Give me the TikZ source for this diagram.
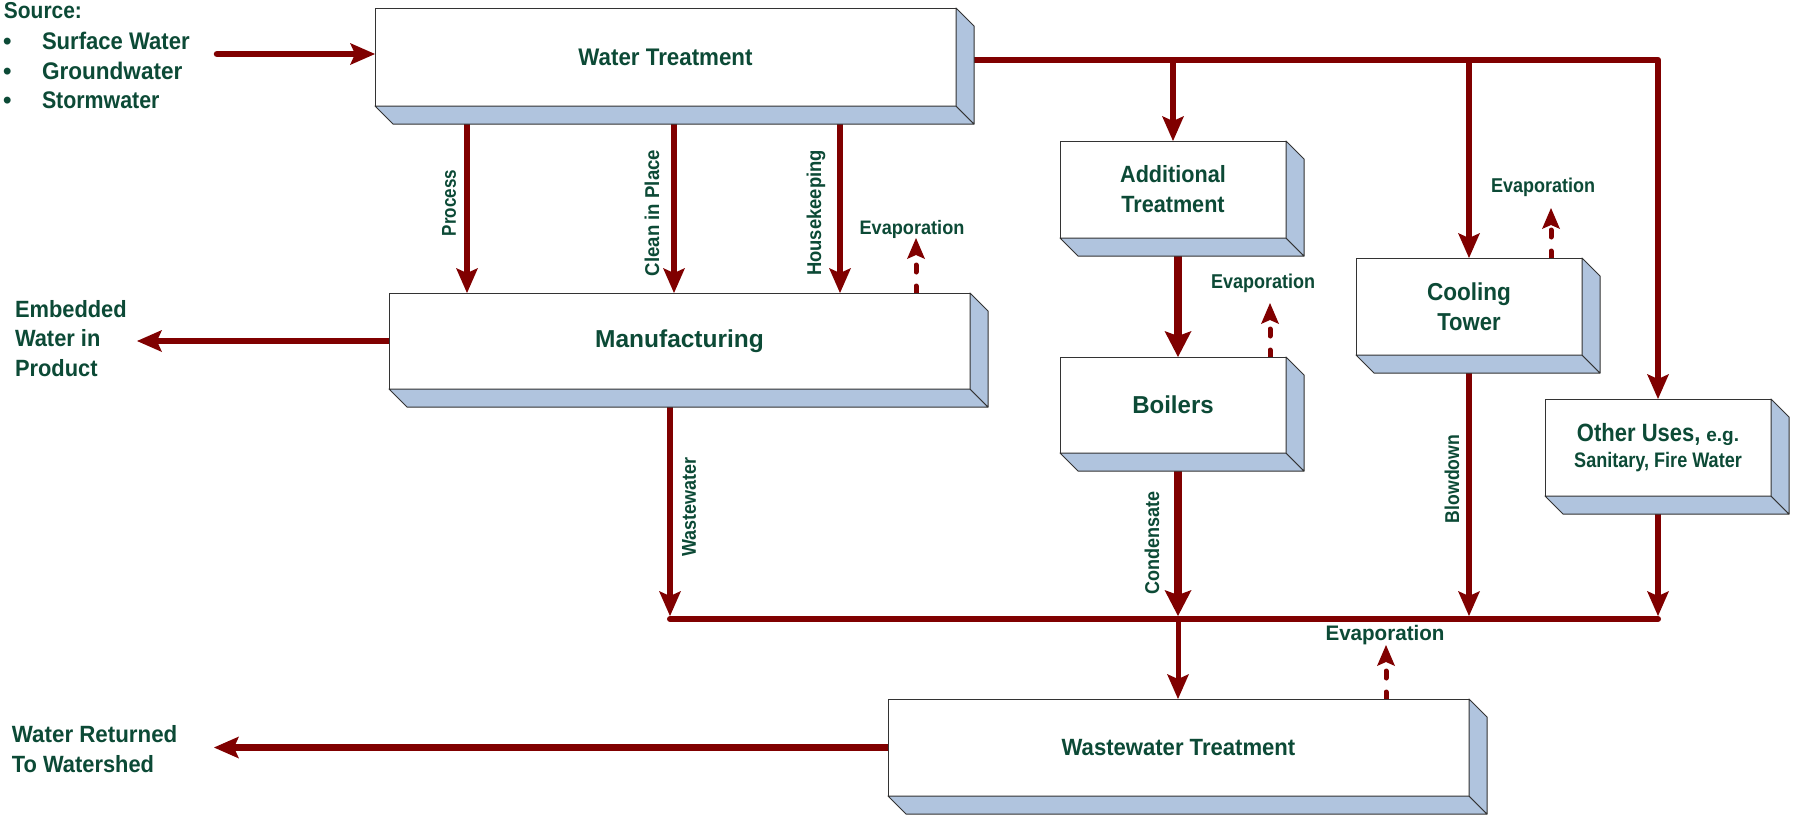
\documentclass[tikz,border=0pt]{standalone}
\usepackage{fontspec}
\setmainfont{Liberation Sans}
\usetikzlibrary{arrows.meta}
\definecolor{txtgreen}{RGB}{12,74,54}
\definecolor{arrowred}{RGB}{128,0,0}
\definecolor{sideblue}{RGB}{176,196,222}
\newcommand\sx[2]{\scalebox{#1}[1]{#2}}
\newcommand\fs[2]{\fontsize{#1}{#2}\selectfont}
\pgfdeclarelayer{back}
\pgfdeclarelayer{bg}
\pgfsetlayers{back,bg,main}
\tikzset{
  lbl/.style={text=txtgreen, inner sep=0pt, outer sep=0pt},
  boxnode/.style={draw=black!80, line width=1pt, fill=white, inner sep=0pt, outer sep=0pt, text=txtgreen, align=center},
  sideface/.style={draw=black!80, line width=1pt, fill=sideblue, line join=round},
  flow/.style={draw=arrowred, line width=6.5pt, line join=round, -{Stealth[length=25pt,width=22pt,inset=5pt,line width=0pt]}},
  fat/.style={draw=arrowred, line width=8pt, -{Stealth[length=26pt,width=27pt,inset=5pt,line width=0pt]}},
  bus/.style={draw=arrowred, line width=6pt, line cap=round},
  evap/.style={draw=arrowred, line width=5pt, dash pattern=on 7pt off 14pt, line cap=round, -{Stealth[length=21pt,width=18pt,inset=4pt,line width=0pt]}},
}
\newcommand\threedbox[7]{%
  \node[boxnode, font={\bfseries#6}, minimum width={(#4)-(#2)}, minimum height={(#5)-(#3)}] (#1) at ({((#2)+(#4))/2},{((#3)+(#5))/2}) {#7};
  \path[sideface] (#1.south west) -- (#1.south east) -- ++(18,18) -- ([shift={(18,18)}]#1.south west) -- cycle;
  \path[sideface] (#1.north east) -- ++(18,18) -- ([shift={(18,18)}]#1.south east) -- (#1.south east) -- cycle;
}
\begin{document}
\begin{tikzpicture}[x=1pt,y=-1pt]
\useasboundingbox (0,0) rectangle (1795,815);
\begin{pgfonlayer}{back}
  \fill[white] (0,0) rectangle (1795,815);
\end{pgfonlayer}

% boxes
\threedbox{WT}{375}{8}{956}{106}{\fs{24}{29}}{\sx{0.93}{Water Treatment}}
\threedbox{Manuf}{389}{293}{970}{389}{\fs{24.5}{29}}{\sx{1.0}{Manufacturing}}
\threedbox{AddT}{1060}{141}{1286}{238}{\fs{23.5}{30}}{\sx{0.92}{Additional}\\\sx{0.92}{Treatment}}
\threedbox{Boilers}{1060}{357}{1286}{453}{\fs{24.5}{29}}{\sx{0.98}{Boilers}}
\threedbox{Cooling}{1356}{258}{1582}{355}{\fs{24.5}{30}}{\sx{0.92}{Cooling}\\\sx{0.9}{Tower}}
\threedbox{Other}{1545}{399}{1771}{496}{\fs{21}{26}}{{\fs{25}{26}\sx{0.88}{Other Uses,}} {\fs{19}{26}e.g.}\\\sx{0.86}{Sanitary, Fire Water}}
\threedbox{WWT}{888}{699}{1469}{796}{\fs{23.5}{29}}{\sx{0.94}{Wastewater Treatment}}

% helper coordinates
\coordinate (srcS) at (217,54);
\coordinate (topY) at (0,60);
\coordinate (xP) at (467,0);
\coordinate (xC) at (674,0);
\coordinate (xH) at (840,0);
\coordinate (embTip) at (137,0);
\coordinate (xB) at (1178,0);
\coordinate (xW) at (670,0);
\coordinate (colTop) at (0,616);
\coordinate (busY) at (0,619);
\coordinate (wsTip) at (214,0);
\coordinate (xE1) at (916,0);
\coordinate (xE2) at (1270,0);
\coordinate (xE3) at (1551,0);
\coordinate (xE4) at (1386,0);

\begin{pgfonlayer}{bg}
  \draw[flow, line cap=round] (srcS) -- (srcS -| WT.west);
  \draw[flow] (WT.east |- topY) -| (Other.north);
  \draw[flow] (AddT.north |- topY) -- (AddT.north);
  \draw[flow] (Cooling.north |- topY) -- (Cooling.north);
  \draw[flow] (WT.south -| xP) -- (Manuf.north -| xP);
  \draw[flow] (WT.south -| xC) -- (Manuf.north -| xC);
  \draw[flow] (WT.south -| xH) -- (Manuf.north -| xH);
  \draw[flow] (Manuf.west) -- (Manuf.west -| embTip);
  \draw[fat] (AddT.south -| xB) -- (Boilers.north -| xB);
  \draw[fat] (Boilers.south -| xB) -- (colTop -| xB);
  \draw[flow] (Cooling.south) -- (Cooling.south |- colTop);
  \draw[flow] (Other.south) -- (Other.south |- colTop);
  \draw[flow] (Manuf.south -| xW) -- (colTop -| xW);
  \draw[bus] (busY -| xW) -- (busY -| Other.south);
  \draw[flow, line width=5pt] (busY -| xB) -- (WWT.north -| xB);
  \draw[flow] (WWT.west) -- (WWT.west -| wsTip);
  \draw[evap] (Manuf.north -| xE1) -- ++(0,-55);
  \draw[evap] (Boilers.north -| xE2) -- ++(0,-54);
  \draw[evap] (Cooling.north -| xE3) -- ++(0,-50);
  \draw[evap] (WWT.north -| xE4) -- ++(0,-54);
\end{pgfonlayer}

% source text
\node[lbl, anchor=base west, font={\bfseries\fs{23}{28}}] (src) at (4,18) {\sx{0.91}{Source:}};
\node[lbl, anchor=base west, font={\bfseries\fs{24}{29}}] (b1) at (3,49) {•};
\node[lbl, anchor=base west, font={\bfseries\fs{24}{29}}] (b2) at (3,79) {•};
\node[lbl, anchor=base west, font={\bfseries\fs{24}{29}}] (b3) at (3,108) {•};
\node[lbl, anchor=base west, font={\bfseries\fs{24}{29}}] (s1) at (42,49) {\sx{0.92}{Surface Water}};
\node[lbl, anchor=base west, font={\bfseries\fs{24}{29}}] (s2) at (42,79) {\sx{0.94}{Groundwater}};
\node[lbl, anchor=base west, font={\bfseries\fs{24}{29}}] (s3) at (42,108) {\sx{0.89}{Stormwater}};

% outputs
\node[lbl, anchor=base west, align=left, font={\bfseries\fs{23.5}{29.5}}] (emb) at (15,376) {\sx{0.93}{Embedded}\\\sx{0.93}{Water in}\\\sx{0.93}{Product}};
\node[lbl, anchor=base west, align=left, font={\bfseries\fs{23.5}{30}}] (ret) at (12,772) {\sx{0.95}{Water Returned}\\\sx{0.93}{To Watershed}};

% rotated flow labels
\node[lbl, rotate=90, font={\bfseries\fs{20}{24}}] (lp) at (449,203) {\sx{0.85}{Process}};
\node[lbl, rotate=90, font={\bfseries\fs{20}{24}}] (lc) at (652,213) {\sx{0.93}{Clean in Place}};
\node[lbl, rotate=90, font={\bfseries\fs{20}{24}}] (lh) at (816,213) {\sx{0.92}{Housekeeping}};
\node[lbl, rotate=90, font={\bfseries\fs{20}{24}}] (lw) at (689,507) {\sx{0.9}{Wastewater}};
\node[lbl, rotate=90, font={\bfseries\fs{20}{24}}] (lcd) at (1152,543) {\sx{0.9}{Condensate}};
\node[lbl, rotate=90, font={\bfseries\fs{20}{24}}] (lb) at (1452,479) {\sx{0.88}{Blowdown}};

% evaporation labels
\node[lbl, anchor=base, font={\bfseries\fs{19.5}{23}}] (e1) at (912,234) {\sx{0.93}{Evaporation}};
\node[lbl, anchor=base, font={\bfseries\fs{20}{24}}] (e2) at (1263,288) {\sx{0.9}{Evaporation}};
\node[lbl, anchor=base, font={\bfseries\fs{20}{24}}] (e3) at (1543,192) {\sx{0.9}{Evaporation}};
\node[lbl, anchor=base, font={\bfseries\fs{21}{25}}] (e4) at (1385,640) {\sx{0.98}{Evaporation}};
\end{tikzpicture}
\end{document}
